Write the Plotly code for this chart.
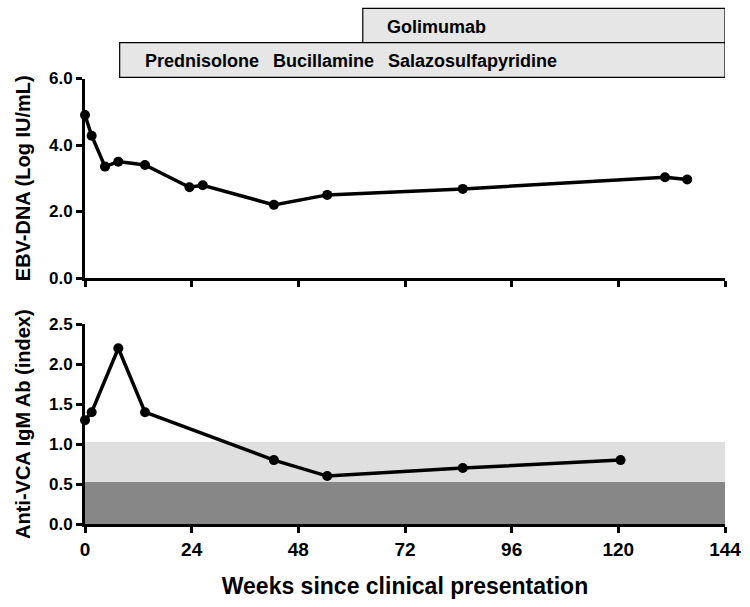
import plotly.graph_objects as go
from plotly.subplots import make_subplots

weeks_dna = [0, 1.5, 4.5, 7.5, 13.5, 23.5, 26.5, 42.5, 54.5, 85, 130.5, 135.5]
ebv_dna = [4.9, 4.28, 3.35, 3.5, 3.4, 2.73, 2.79, 2.2, 2.5, 2.68, 3.03, 2.96]

weeks_vca = [0, 1.5, 7.5, 13.5, 42.5, 54.5, 85, 120.5]
anti_vca = [1.3, 1.4, 2.2, 1.4, 0.8, 0.6, 0.7, 0.8]

x_ticks = [0, 24, 48, 72, 96, 120, 144]
y1_ticks = [0, 2, 4, 6]
y2_ticks = [0, 0.5, 1.0, 1.5, 2.0, 2.5]
band_dark = [0, 0.525]
band_light = [0.525, 1.025]

drugs_row1 = ["Prednisolone", "Bucillamine", "Salazosulfapyridine"]
drugs_row1_x = [13.1, 41.8, 67.8]
drug_row2 = "Golimumab"
drug_row2_x = 67.5
row1_start, row2_start, treat_end = 7.8, 62.5, 144

H = 607
b = 83
ph = H - b
def py(p):
    return (H - b - p) / ph  # pixel from top -> paper y

FONT = "Liberation Sans, Arial, Helvetica"

fig = make_subplots(rows=2, cols=1, shared_xaxes=False, vertical_spacing=0.05)

fig.update_layout(
    width=750, height=607,
    margin=dict(l=85, r=25, t=0, b=b, autoexpand=False),
    plot_bgcolor="white", paper_bgcolor="white",
    showlegend=False,
    font=dict(family=FONT, color="black"),
)
fig.update_yaxes(domain=[py(278), py(78.5)], row=1, col=1)
fig.update_yaxes(domain=[0, py(324.3)], row=2, col=1)

# background bands (bottom panel)
fig.add_shape(type="rect", xref="x2", yref="y2", x0=0, x1=144, y0=band_light[0], y1=band_light[1],
              fillcolor="#dfdfdf", line_width=0, layer="below")
fig.add_shape(type="rect", xref="x2", yref="y2", x0=0, x1=144, y0=band_dark[0], y1=band_dark[1],
              fillcolor="#878787", line_width=0, layer="below")

line_style = dict(color="black", width=3.5)
fig.add_trace(go.Scatter(x=weeks_dna, y=ebv_dna, mode="lines+markers",
                         line=line_style, marker=dict(color="black", size=10),
                         cliponaxis=False), row=1, col=1)
fig.add_trace(go.Scatter(x=weeks_vca, y=anti_vca, mode="lines+markers",
                         line=line_style, marker=dict(color="black", size=10),
                         cliponaxis=False), row=2, col=1)

axis_common = dict(showline=True, linewidth=3, linecolor="black", ticks="outside",
                   ticklen=6, tickwidth=2.5, tickcolor="black", showgrid=False,
                   zeroline=False)

xtickfont = dict(family=FONT, size=19, color="black")
ytickfont = dict(family=FONT, size=17, color="black")

fig.update_xaxes(range=[0, 144], tickvals=x_ticks, showticklabels=False, **axis_common, row=1, col=1)
fig.update_xaxes(range=[0, 144], tickvals=x_ticks, ticktext=[f"<b>{t}</b>" for t in x_ticks],
                 tickfont=xtickfont,
                 title=dict(text="<b>Weeks since clinical presentation</b>",
                            font=dict(family=FONT, size=23),
                            standoff=20),
                 **axis_common, row=2, col=1)
fig.update_yaxes(range=[0, 6], tickvals=y1_ticks, ticktext=[f"<b>{t:.1f}</b>" for t in y1_ticks],
                 tickfont=ytickfont,
                 title=dict(text="<b>EBV-DNA (Log IU/mL)</b>",
                            font=dict(family=FONT, size=20), standoff=13),
                 **axis_common, row=1, col=1)
fig.update_yaxes(range=[0, 2.5], tickvals=y2_ticks, ticktext=[f"<b>{t:.1f}</b>" for t in y2_ticks],
                 tickfont=ytickfont,
                 title=dict(text="<b>Anti-VCA IgM Ab (index)</b>",
                            font=dict(family=FONT, size=20), standoff=13),
                 **axis_common, row=2, col=1)

# treatment boxes
fig.add_shape(type="rect", xref="x", yref="paper", x0=row2_start, x1=treat_end,
              y0=py(42.7), y1=py(8.3), fillcolor="#e6e6e6", line=dict(color="black", width=1.2))
fig.add_shape(type="rect", xref="x", yref="paper", x0=row1_start, x1=treat_end,
              y0=py(77.3), y1=py(42.7), fillcolor="#e6e6e6", line=dict(color="black", width=1.2))

boxfont = dict(family=FONT, size=18, color="black")
for name, xv in zip(drugs_row1, drugs_row1_x):
    fig.add_annotation(x=xv, y=py(61), xref="x", yref="paper", text=f"<b>{name}</b>",
                       showarrow=False, xanchor="left", yanchor="middle", font=boxfont)
fig.add_annotation(x=drug_row2_x, y=py(27), xref="x", yref="paper", text=f"<b>{drug_row2}</b>",
                   showarrow=False, xanchor="left", yanchor="middle", font=boxfont)

fig.write_html("out.html")
